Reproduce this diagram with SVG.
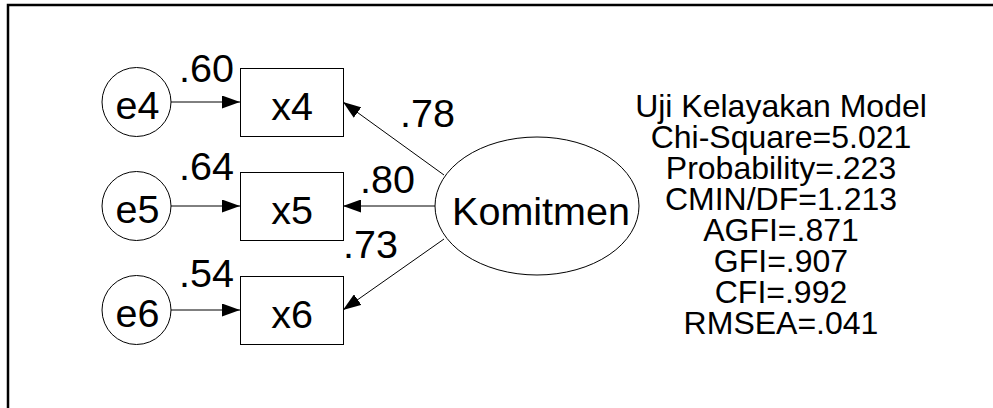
<svg xmlns="http://www.w3.org/2000/svg" width="993" height="408" viewBox="0 0 993 408">
<defs>
<marker id="arr" viewBox="0 0 18 13" refX="18" refY="6.5" markerWidth="18" markerHeight="13" markerUnits="userSpaceOnUse" orient="auto">
<path d="M0,0 L18,6.5 L0,13 Z" fill="#000"/>
</marker>
</defs>
<style>
text{font-family:"Liberation Sans",Arial,sans-serif;fill:#000}
.shape{fill:#fff;stroke:#000;stroke-width:1}
.lbl{font-size:39.5px}
.big{font-size:39.5px;text-anchor:middle}
.node{font-size:39.5px;text-anchor:middle}
.fit{font-size:32px;text-anchor:middle}
.conn{stroke:#000;stroke-width:1;fill:none;marker-end:url(#arr)}
</style>
<rect x="0" y="0" width="993" height="408" fill="#fff"/>
<path d="M8,408 V5 H993" fill="none" stroke="#000" stroke-width="2.5"/>
<g id="connectors">
<line class="conn" x1="171" y1="102" x2="240" y2="102"/>
<line class="conn" x1="171" y1="206" x2="240" y2="206"/>
<line class="conn" x1="171" y1="310" x2="240" y2="310"/>
<line class="conn" x1="444" y1="175" x2="343" y2="102"/>
<line class="conn" x1="435" y1="206" x2="343" y2="206"/>
<line class="conn" x1="444" y1="239" x2="343" y2="310"/>
<text class="lbl" x="179" y="82">.60</text>
<text class="lbl" x="179" y="180">.64</text>
<text class="lbl" x="179" y="287">.54</text>
<text class="lbl" x="400" y="127">.78</text>
<text class="lbl" x="360" y="193">.80</text>
<text class="lbl" x="343" y="258">.73</text>
</g>
<g id="e4"><circle class="shape" cx="136.5" cy="102" r="34.5"/><text class="node" x="137.5" y="118.5">e4</text></g>
<g id="e5"><circle class="shape" cx="136.5" cy="206" r="34.5"/><text class="node" x="137.5" y="222.5">e5</text></g>
<g id="e6"><circle class="shape" cx="136.5" cy="310" r="34.5"/><text class="node" x="137.5" y="326.5">e6</text></g>
<g id="x4"><rect class="shape" x="240.5" y="68.5" width="103" height="68"/><text class="node" x="292" y="119.5">x4</text></g>
<g id="x5"><rect class="shape" x="240.5" y="172.5" width="103" height="68"/><text class="node" x="292" y="223.5">x5</text></g>
<g id="x6"><rect class="shape" x="240.5" y="276.5" width="103" height="68"/><text class="node" x="292" y="327.5">x6</text></g>
<g id="Komitmen"><ellipse class="shape" cx="537" cy="206" rx="102" ry="69"/><text class="big" x="541" y="225">Komitmen</text></g>
<g id="fit">
<text class="fit" x="781" y="116.5">Uji Kelayakan Model</text>
<text class="fit" x="781" y="147.6">Chi-Square=5.021</text>
<text class="fit" x="781" y="178.7">Probability=.223</text>
<text class="fit" x="781" y="209.8">CMIN/DF=1.213</text>
<text class="fit" x="781" y="240.9">AGFI=.871</text>
<text class="fit" x="781" y="272">GFI=.907</text>
<text class="fit" x="781" y="303.1">CFI=.992</text>
<text class="fit" x="781" y="334.2">RMSEA=.041</text>
</g>
</svg>
